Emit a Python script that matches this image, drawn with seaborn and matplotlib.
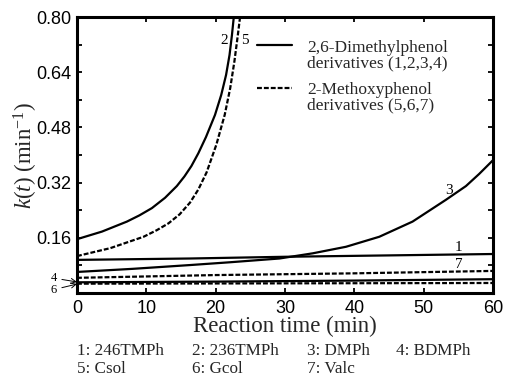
import numpy as np
import pandas as pd
import matplotlib
matplotlib.use("Agg")
import matplotlib.pyplot as plt
import seaborn as sns
from matplotlib.lines import Line2D

# ---- data ----
t1 = [0, 16.3, 30, 45, 60]
k1 = [0.096, 0.100, 0.105, 0.109, 0.113]

t2 = [0, 3.6, 7.2, 9.0, 10.8, 12.7, 14.4, 15.5, 16.5, 17.5, 18.6, 19.9, 20.8, 21.5, 22.0, 22.35, 22.6, 22.9]
k2 = [0.156, 0.178, 0.207, 0.225, 0.246, 0.276, 0.310, 0.338, 0.368, 0.405, 0.452, 0.516, 0.574, 0.632, 0.690, 0.748, 0.797, 0.850]

t3 = [0, 8, 16.3, 22, 29.2, 34, 38.8, 43.6, 48.4, 53.2, 56.1, 58, 60]
k3 = [0.061, 0.070, 0.081, 0.089, 0.100, 0.115, 0.134, 0.163, 0.207, 0.270, 0.310, 0.345, 0.385]

t4 = [0, 20, 40, 60]
k4 = [0.031, 0.033, 0.036, 0.040]

t5 = [0, 4.8, 9.6, 11.5, 13.2, 14.8, 16.3, 17.5, 18.7, 20.1, 21.3, 22.1, 22.7, 23.2, 23.5, 23.8]
k5 = [0.107, 0.130, 0.163, 0.182, 0.202, 0.228, 0.262, 0.300, 0.350, 0.430, 0.516, 0.594, 0.671, 0.748, 0.797, 0.850]

t6 = [0, 60]
k6 = [0.027, 0.029]

t7 = [0, 20, 40, 60]
k7 = [0.044, 0.052, 0.057, 0.064]

curve_ids = ["1", "2", "3", "4", "5", "6", "7"]
names = ["246TMPh", "236TMPh", "DMPh", "BDMPh", "Csol", "Gcol", "Valc"]
legend_lines = [["2,6-Dimethylphenol", "derivatives (1,2,3,4)"],
                ["2-Methoxyphenol", "derivatives (5,6,7)"]]
xticks = [0, 10, 20, 30, 40, 50, 60]
yticks = [0.0, 0.16, 0.32, 0.48, 0.64, 0.80]
ytick_labels = ["", "0.16", "0.32", "0.48", "0.64", "0.80"]

sns.set_style("ticks")
plt.rcParams["font.family"] = ["Liberation Sans", "DejaVu Sans"]
plt.rcParams["mathtext.fontset"] = "custom"
plt.rcParams["mathtext.rm"] = "Liberation Serif"
plt.rcParams["mathtext.it"] = "Liberation Serif:italic"

W, H = 505, 379
fig = plt.figure(figsize=(W/100, H/100), dpi=100)
ax = fig.add_axes([77/W, 1-293/H, (493-77)/W, (293-17)/H])

solid = "-"
dashed = (0, (2.2, 0.9))
series = [(t1, k1, solid), (t2, k2, solid), (t3, k3, solid), (t4, k4, solid),
          (t5, k5, dashed), (t6, k6, dashed), (t7, k7, dashed)]
for tt, kk, ls in series:
    df = pd.DataFrame({"t": tt, "k": kk})
    sns.lineplot(data=df, x="t", y="k", ax=ax, color="black", linewidth=1.6,
                 linestyle=ls, estimator=None, sort=False, legend=False)

ax.set_xlim(0, 60)
ax.set_ylim(0, 0.80)
ax.set_xticks(xticks)
ax.set_xticklabels([str(v) for v in xticks])
ax.set_yticks(yticks)
ax.set_yticklabels(ytick_labels)
ax.set_yticks(np.arange(0.08, 0.80, 0.16), minor=True)
ax.tick_params(axis="both", which="both", direction="in", top=True, right=True,
               width=1.3, length=3.5, labelsize=13, colors="black")
ax.tick_params(axis="x", pad=5)
ax.tick_params(axis="y", pad=4)
for s in ax.spines.values():
    s.set_linewidth(2.2)
    s.set_color("black")

ax.set_xlabel("Reaction time (min)", family="Liberation Serif", fontsize=16.5, labelpad=-1)
ax.set_ylabel(r"$k$($t$) (min$^{-1}$)", family="Liberation Serif", fontsize=16.5)
ax.yaxis.set_label_coords(-0.09, 0.5)

# curve labels
serif = dict(family="Liberation Serif", fontsize=11, color="black")
ax.text(21.3, 0.733, "2", ha="center", va="center", **serif)
ax.text(24.2, 0.733, "5", ha="center", va="center", **serif)
ax.text(53.7, 0.296, "3", ha="center", va="center", **serif)
ax.text(55.0, 0.133, "1", ha="center", va="center", **serif)
ax.text(55.1, 0.084, "7", ha="center", va="center", **serif)
small = dict(family="Liberation Serif", fontsize=9, color="black")
arrow = dict(arrowstyle="->", lw=0.7, color="black", shrinkA=1, shrinkB=0)
ax.annotate("4", xy=(0, 0.032), xytext=(-3.3, 0.043), ha="center", va="center",
            annotation_clip=False, arrowprops=arrow, **small)
ax.annotate("6", xy=(0, 0.026), xytext=(-3.3, 0.010), ha="center", va="center",
            annotation_clip=False, arrowprops=arrow, **small)

# legend (drawn by hand to follow the reference layout)
handle_styles = [solid, dashed]
handle_y = [45, 88]
text_baselines = [[52, 67], [94, 109]]
for i in range(2):
    fig.add_artist(Line2D([257/W, 292/W], [1-handle_y[i]/H]*2, color="black",
                          lw=1.6, ls=handle_styles[i], transform=fig.transFigure))
    for j, line in enumerate(legend_lines[i]):
        fig.text(307/W, 1-text_baselines[i][j]/H, line, ha="left", va="baseline",
                 family="Liberation Serif", fontsize=12.5)

# bottom key
cols_x = [77, 192, 307, 396]
rows = [[0, 1, 2, 3], [4, 5, 6]]
row_y = [351, 369]
for r, row in enumerate(rows):
    for c, idx in enumerate(row):
        fig.text(cols_x[c]/W, 1 - row_y[r]/H, f"{curve_ids[idx]}: {names[idx]}",
                 ha="left", va="center", family="Liberation Serif", fontsize=12.3)

fig.savefig("out.png", dpi=100)
